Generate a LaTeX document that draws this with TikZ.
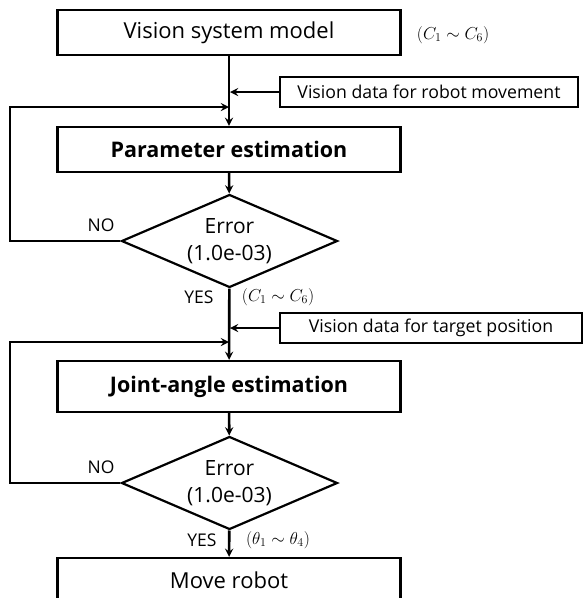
\documentclass[tikz,border=0pt]{standalone}
\usepackage{fontspec}
\setmainfont{Open Sans}
\usetikzlibrary{shapes.geometric,positioning}

\tikzset{
  block/.style={draw, line width=2.2pt, minimum width=343pt, minimum height=45pt,
    inner sep=0pt, font=\fontsize{22}{26}\selectfont},
  datain/.style={draw, line width=2.2pt, minimum height=30pt, inner sep=0pt,
    font=\fontsize{17.7}{20}\selectfont},
  check/.style={draw, diamond, aspect=2.35, line width=2.2pt, minimum width=216pt,
    minimum height=93pt, inner sep=0pt, align=center, font=\fontsize{21}{27}\selectfont},
  flow/.style={line width=2.6pt, ->},
  tag/.style={font=\fontsize{17.5}{19}\selectfont},
  param/.style={font=\fontsize{18.5}{22}\selectfont},
}

\begin{document}
\begin{tikzpicture}[x=1pt, y=-1pt, >=stealth]
    \clip (0,0) rectangle (583,598);
    \useasboundingbox (0,0) rectangle (583,598);

    % main column
    \node[block] (model) at (229,32.5) {Vision system model};
    \node[block, font=\fontsize{21.5}{26}\selectfont\bfseries] (param) at (229,149.5) {Parameter estimation};
    \node[check] (err1) at (229.5,241) {Error\\(1.0e-03)};
    \node[block, minimum height=51pt, font=\fontsize{21.5}{26}\selectfont\bfseries] (joint) at (229,386.5) {Joint-angle estimation};
    \node[check] (err2) at (229.5,483) {Error\\(1.0e-03)};
    \node[block] (move) at (229,580.5) {Move robot};

    % vision inputs
    \node[datain, minimum width=298pt] (vd1) at (429,92) {Vision data for robot movement};
    \node[datain, minimum width=302pt] (vd2) at (431,328) {Vision data for target position};

    \coordinate (m1) at (230,92);
    \coordinate (j1) at (229,107);
    \coordinate (l1) at (10,107);
    \coordinate (m2) at (230,328);
    \coordinate (j2) at (229,342);
    \coordinate (l2) at (10,342);

    \draw[flow] (model) -- (param);
    \draw[flow] (vd1) -- (m1);
    \draw[flow] (err1.west) -| (l1) -- (j1);
    \draw[flow] (param) -- (err1);
    \draw[flow] (err1) -- (joint);
    \draw[flow] (vd2) -- (m2);
    \draw[flow] (err2.west) -| (l2) -- (j2);
    \draw[flow] (joint) -- (err2);
    \draw[flow] (err2) -- (move);

    % labels
    \node[param] (c1) at (453,35) {$(C_1\sim C_6)$};
    \node[param] (c2) at (278,297) {$(C_1\sim C_6)$};
    \node[param] (th) at (278,540) {$(\theta_1\sim\theta_4)$};
    \node[tag] (no1) at (101,225) {NO};
    \node[tag] (yes1) at (199,297) {YES};
    \node[tag] (no2) at (101,467) {NO};
    \node[tag] (yes2) at (202,540) {YES};
\end{tikzpicture}
\end{document}
